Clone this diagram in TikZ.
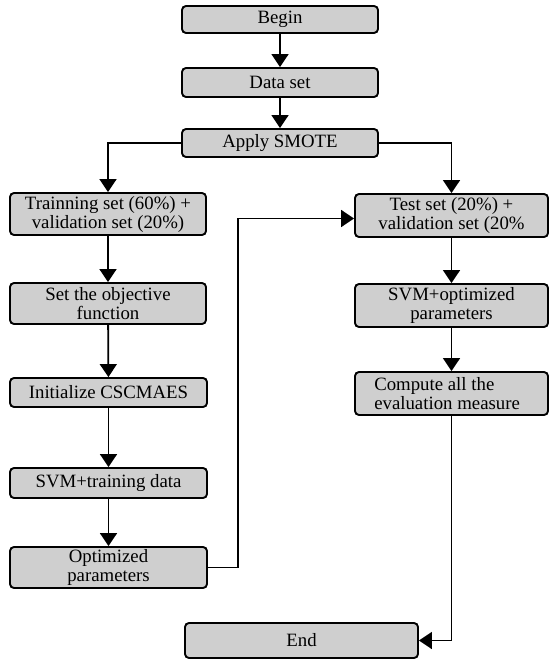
\documentclass[tikz,border=0pt]{standalone}
\usepackage{fontspec}
\setmainfont{Liberation Serif}
\usetikzlibrary{arrows.meta}
\definecolor{boxfill}{RGB}{207,207,207}
\begin{document}
\begin{tikzpicture}[x=1pt,y=-1pt,
  box/.style={draw=black, fill=boxfill, rounded corners=4pt, line width=1.9pt,
    align=center, inner sep=1pt, font=\fontsize{18.8}{19}\selectfont},
  arr/.style={line width=1.8pt, -{Triangle[width=17pt,length=13pt]}},
  txt/.style={align=left, inner sep=0pt, font=\fontsize{18.8}{19}\selectfont}]
\useasboundingbox (0,0) rectangle (549,660);
\node[box, minimum width=196pt, minimum height=27pt] (begin) at (280,19.5) {Begin};
\node[box, minimum width=196pt, minimum height=29pt] (data) at (280,82.5) {Data set};
\node[box, minimum width=196pt, minimum height=28pt] (smote) at (280,143) {Apply SMOTE};
\node[box, minimum width=196pt, minimum height=42pt] (train) at (108,214) {Trainning set (60\%) +\\validation set (20\%)};
\node[box, minimum width=196pt, minimum height=41pt] (obj) at (108,303.5) {Set the objective\\function};
\node[box, minimum width=197pt, minimum height=29pt] (init) at (108.5,392.5) {Initialize CSCMAES};
\node[box, minimum width=197pt, minimum height=30pt] (svmt) at (108.5,483) {SVM+training data};
\node[box, minimum width=197pt, minimum height=41pt] (opt) at (108.5,567.5) {Optimized\\parameters};
\node[box, minimum width=193pt, minimum height=43pt] (test) at (451.5,215.5) {Test set (20\%) +\\validation set (20\%};
\node[box, minimum width=193pt, minimum height=43pt] (svmo) at (451.5,305.5) {SVM+optimized\\parameters};
\node[box, minimum width=193pt, minimum height=43pt] (comp) at (451.5,393.5) {};
\node[txt, anchor=west] (comptext) at ([xshift=20pt]comp.west) {Compute all the\\evaluation measure};
\node[box, minimum width=233pt, minimum height=35pt] (end) at (301.5,640.5) {End};

\draw[arr] (begin) -- (data);
\draw[arr] (data) -- (smote);
\draw[arr] (smote.west) -| (train.north);
\draw[arr] (smote.east) -| (test.north);
\draw[arr] (train) -- (obj);
\draw[arr] (obj) -- (init);
\draw[arr] (init) -- (svmt);
\draw[arr] (svmt) -- (opt);
\draw[arr] (opt.east) -- ++(30,0) |- ([yshift=-3pt]test.west);
\draw[arr] (test) -- (svmo);
\draw[arr] (svmo) -- (comp);
\draw[arr] (comp.south) |- (end.east);
\end{tikzpicture}
\end{document}
